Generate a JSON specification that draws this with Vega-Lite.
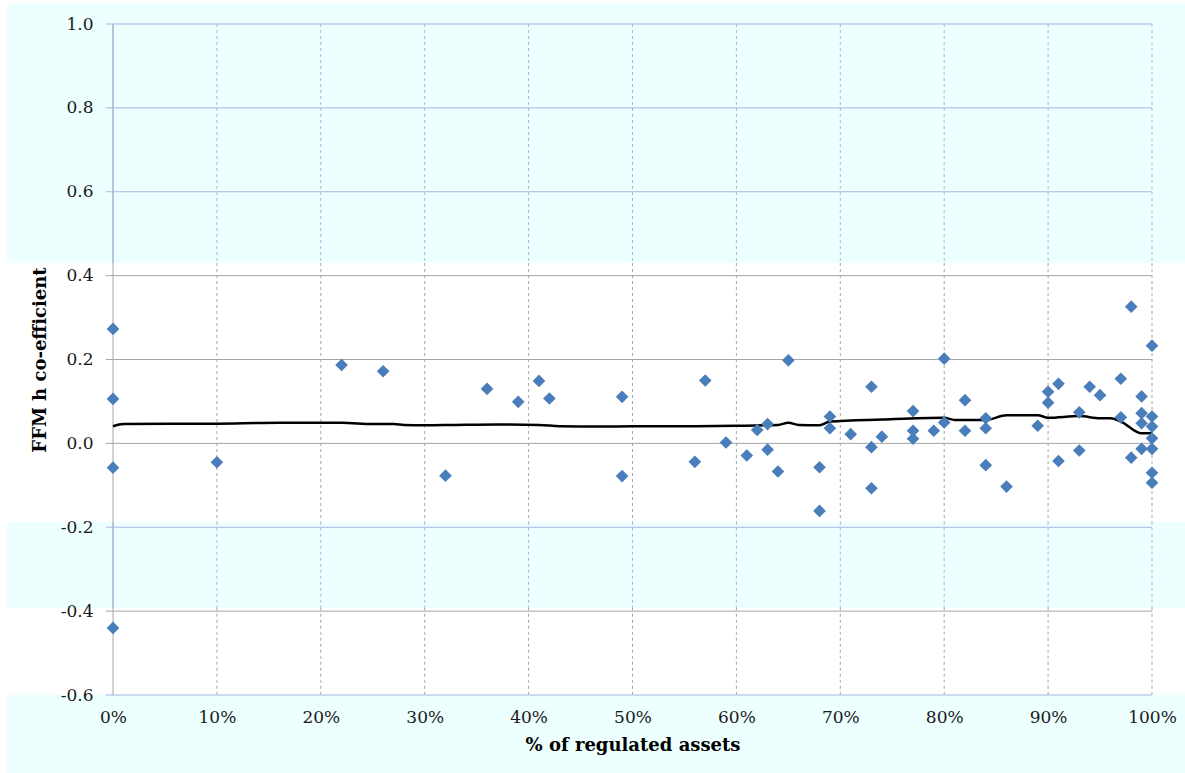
{
  "$schema": "https://vega.github.io/schema/vega-lite/v6.json",
  "width": 1039,
  "height": 671,
  "autosize": {"type": "none"},
  "padding": {"left": 113, "top": 24, "right": 33, "bottom": 78},
  "background": "white",
  "config": {"view": {"stroke": null}, "font": "DejaVu Serif"},
  "resolve": {"axis": {"x": "independent", "y": "independent"}},
  "datasets": {
    "one": [{}],
    "pts": [
      {"x": 0, "y": 0.273}, {"x": 0, "y": 0.106}, {"x": 0, "y": -0.058}, {"x": 0, "y": -0.44},
      {"x": 0.10, "y": -0.045}, {"x": 0.22, "y": 0.187}, {"x": 0.26, "y": 0.172}, {"x": 0.32, "y": -0.077},
      {"x": 0.36, "y": 0.130}, {"x": 0.39, "y": 0.099}, {"x": 0.41, "y": 0.149}, {"x": 0.42, "y": 0.107},
      {"x": 0.49, "y": 0.111}, {"x": 0.49, "y": -0.078}, {"x": 0.56, "y": -0.044}, {"x": 0.57, "y": 0.150},
      {"x": 0.59, "y": 0.002}, {"x": 0.61, "y": -0.029}, {"x": 0.62, "y": 0.032}, {"x": 0.63, "y": 0.046},
      {"x": 0.63, "y": -0.015}, {"x": 0.64, "y": -0.067}, {"x": 0.65, "y": 0.198}, {"x": 0.68, "y": -0.057},
      {"x": 0.68, "y": -0.161}, {"x": 0.69, "y": 0.064}, {"x": 0.69, "y": 0.036}, {"x": 0.71, "y": 0.022},
      {"x": 0.73, "y": 0.135}, {"x": 0.73, "y": -0.009}, {"x": 0.73, "y": -0.107}, {"x": 0.74, "y": 0.016},
      {"x": 0.77, "y": 0.077}, {"x": 0.77, "y": 0.030}, {"x": 0.77, "y": 0.011}, {"x": 0.79, "y": 0.030},
      {"x": 0.80, "y": 0.202}, {"x": 0.80, "y": 0.050}, {"x": 0.82, "y": 0.103}, {"x": 0.82, "y": 0.030},
      {"x": 0.84, "y": 0.060}, {"x": 0.84, "y": 0.036}, {"x": 0.84, "y": -0.052}, {"x": 0.86, "y": -0.103},
      {"x": 0.89, "y": 0.042}, {"x": 0.90, "y": 0.123}, {"x": 0.90, "y": 0.097}, {"x": 0.91, "y": 0.142},
      {"x": 0.91, "y": -0.042}, {"x": 0.93, "y": 0.074}, {"x": 0.93, "y": -0.017}, {"x": 0.94, "y": 0.135},
      {"x": 0.95, "y": 0.115}, {"x": 0.97, "y": 0.154}, {"x": 0.97, "y": 0.062}, {"x": 0.98, "y": 0.326},
      {"x": 0.98, "y": -0.034}, {"x": 0.99, "y": 0.112}, {"x": 0.99, "y": 0.072}, {"x": 0.99, "y": 0.048},
      {"x": 0.99, "y": -0.013}, {"x": 1.0, "y": 0.233}, {"x": 1.0, "y": 0.064}, {"x": 1.0, "y": 0.040},
      {"x": 1.0, "y": 0.012}, {"x": 1.0, "y": -0.013}, {"x": 1.0, "y": -0.070}, {"x": 1.0, "y": -0.094}
    ],
    "fit": [
      {"x": 0, "y": 0.041}, {"x": 0.01, "y": 0.046}, {"x": 0.10, "y": 0.047}, {"x": 0.16, "y": 0.049},
      {"x": 0.22, "y": 0.049}, {"x": 0.25, "y": 0.046}, {"x": 0.27, "y": 0.046}, {"x": 0.28, "y": 0.044},
      {"x": 0.30, "y": 0.043}, {"x": 0.33, "y": 0.044}, {"x": 0.37, "y": 0.045}, {"x": 0.41, "y": 0.044},
      {"x": 0.43, "y": 0.041}, {"x": 0.47, "y": 0.040}, {"x": 0.50, "y": 0.041}, {"x": 0.55, "y": 0.041},
      {"x": 0.60, "y": 0.042}, {"x": 0.64, "y": 0.044}, {"x": 0.65, "y": 0.049}, {"x": 0.66, "y": 0.044},
      {"x": 0.68, "y": 0.043}, {"x": 0.69, "y": 0.052}, {"x": 0.74, "y": 0.057}, {"x": 0.80, "y": 0.061},
      {"x": 0.81, "y": 0.056}, {"x": 0.84, "y": 0.056}, {"x": 0.86, "y": 0.067}, {"x": 0.89, "y": 0.067},
      {"x": 0.90, "y": 0.061}, {"x": 0.93, "y": 0.065}, {"x": 0.95, "y": 0.060}, {"x": 0.96, "y": 0.060},
      {"x": 0.97, "y": 0.052}, {"x": 0.99, "y": 0.024}, {"x": 1.0, "y": 0.024}
    ],
    "gx": [
      {"x": 0.1}, {"x": 0.2}, {"x": 0.3}, {"x": 0.4}, {"x": 0.5},
      {"x": 0.6}, {"x": 0.7}, {"x": 0.8}, {"x": 0.9}, {"x": 1.0}
    ],
    "hgray": [{"y": 0.4}, {"y": 0.2}, {"y": 0.0}, {"y": -0.4}],
    "hblue": [{"y": 1.0}, {"y": 0.8}, {"y": 0.6}, {"y": -0.2}, {"y": -0.6}]
  },
  "layer": [
    {
      "data": {"name": "one"},
      "mark": {"type": "rect", "color": "#eeffff"},
      "encoding": {
        "x": {"datum": -0.102, "type": "quantitative", "axis": null},
        "x2": {"datum": 1.04},
        "y": {"datum": 1.05, "type": "quantitative", "axis": null},
        "y2": {"datum": 0.43}
      }
    },
    {
      "data": {"name": "one"},
      "mark": {"type": "rect", "color": "#eeffff"},
      "encoding": {
        "x": {"datum": -0.102, "type": "quantitative", "axis": null},
        "x2": {"datum": 1.04},
        "y": {"datum": -0.187, "type": "quantitative", "axis": null},
        "y2": {"datum": -0.392}
      }
    },
    {
      "data": {"name": "one"},
      "mark": {"type": "rect", "color": "#eeffff"},
      "encoding": {
        "x": {"datum": -0.102, "type": "quantitative", "axis": null},
        "x2": {"datum": 1.04},
        "y": {"datum": -0.6, "type": "quantitative", "axis": null},
        "y2": {"datum": -0.8}
      }
    },
    {
      "data": {"name": "gx"},
      "mark": {"type": "rule", "color": "#a6a6a6", "strokeDash": [3, 3], "strokeWidth": 1},
      "encoding": {
        "x": {"field": "x", "type": "quantitative", "axis": null},
        "y": {"datum": 0.43, "type": "quantitative", "axis": null},
        "y2": {"datum": -0.187}
      }
    },
    {
      "data": {"name": "gx"},
      "mark": {"type": "rule", "color": "#a6a6a6", "strokeDash": [3, 3], "strokeWidth": 1},
      "encoding": {
        "x": {"field": "x", "type": "quantitative", "axis": null},
        "y": {"datum": -0.392, "type": "quantitative", "axis": null},
        "y2": {"datum": -0.6}
      }
    },
    {
      "data": {"name": "gx"},
      "mark": {"type": "rule", "color": "#a3b8e3", "strokeDash": [3, 3], "strokeWidth": 1},
      "encoding": {
        "x": {"field": "x", "type": "quantitative", "axis": null},
        "y": {"datum": 1.0, "type": "quantitative", "axis": null},
        "y2": {"datum": 0.43}
      }
    },
    {
      "data": {"name": "gx"},
      "mark": {"type": "rule", "color": "#a3b8e3", "strokeDash": [3, 3], "strokeWidth": 1},
      "encoding": {
        "x": {"field": "x", "type": "quantitative", "axis": null},
        "y": {"datum": -0.187, "type": "quantitative", "axis": null},
        "y2": {"datum": -0.392}
      }
    },
    {
      "data": {"name": "hgray"},
      "mark": {"type": "rule", "color": "#a6a6a6", "strokeWidth": 1},
      "encoding": {
        "x": {"datum": -0.007, "type": "quantitative", "axis": null},
        "x2": {"datum": 1.0},
        "y": {"field": "y", "type": "quantitative", "axis": null}
      }
    },
    {
      "data": {"name": "hblue"},
      "mark": {"type": "rule", "color": "#a3b8e3", "strokeWidth": 1},
      "encoding": {
        "x": {"datum": -0.007, "type": "quantitative", "axis": null},
        "x2": {"datum": 1.0},
        "y": {"field": "y", "type": "quantitative", "axis": null}
      }
    },
    {
      "data": {"name": "one"},
      "mark": {"type": "rule", "color": "#a6a6a6", "strokeWidth": 1},
      "encoding": {
        "x": {"datum": 0, "type": "quantitative", "axis": null},
        "y": {"datum": 1.0, "type": "quantitative", "axis": null},
        "y2": {"datum": -0.6}
      }
    },
    {
      "data": {"name": "one"},
      "mark": {"type": "rule", "color": "#a3b8e3", "strokeWidth": 1},
      "encoding": {
        "x": {"datum": 0, "type": "quantitative", "axis": null},
        "y": {"datum": 1.0, "type": "quantitative", "axis": null},
        "y2": {"datum": 0.43}
      }
    },
    {
      "data": {"name": "one"},
      "mark": {"type": "rule", "color": "#a3b8e3", "strokeWidth": 1},
      "encoding": {
        "x": {"datum": 0, "type": "quantitative", "axis": null},
        "y": {"datum": -0.187, "type": "quantitative", "axis": null},
        "y2": {"datum": -0.392}
      }
    },
    {
      "data": {"name": "fit"},
      "mark": {"type": "line", "color": "#000000", "strokeWidth": 2.5, "interpolate": "monotone"},
      "encoding": {
        "x": {"field": "x", "type": "quantitative", "axis": null},
        "y": {"field": "y", "type": "quantitative", "axis": null}
      }
    },
    {
      "data": {"name": "pts"},
      "mark": {"type": "point", "shape": "diamond", "filled": true, "size": 160, "color": "#4a7ebb", "opacity": 1},
      "encoding": {
        "x": {
          "field": "x", "type": "quantitative",
          "scale": {"domain": [0, 1], "nice": false, "zero": false},
          "axis": {
            "zindex": 1, "grid": false, "domain": false, "ticks": false, "tickSize": 0,
            "values": [0, 0.1, 0.2, 0.3, 0.4, 0.5, 0.6, 0.7, 0.8, 0.9, 1.0],
            "format": ".0%", "labelFont": "DejaVu Serif", "labelFontSize": 17, "labelColor": "#1a1a1a",
            "labelPadding": 14, "labelFlush": false, "labelOverlap": false, "labelBound": false,
            "title": "% of regulated assets", "titleFont": "DejaVu Serif", "titleFontSize": 18,
            "titleFontWeight": "bold", "titleColor": "#000000", "titleY": 50, "titleBaseline": "middle"
          }
        },
        "y": {
          "field": "y", "type": "quantitative",
          "scale": {"domain": [-0.6, 1.0], "nice": false, "zero": false},
          "axis": {
            "zindex": 1, "grid": false, "domain": false, "ticks": false, "tickSize": 0,
            "values": [-0.6, -0.4, -0.2, 0, 0.2, 0.4, 0.6, 0.8, 1.0],
            "labelExpr": "replace(format(datum.value, '.1f'), '\u2212', '-')",
            "labelFont": "DejaVu Serif", "labelFontSize": 17, "labelColor": "#1a1a1a",
            "labelPadding": 20, "labelFlush": false, "labelOverlap": false, "labelBound": false,
            "title": "FFM h co-efficient", "titleFont": "DejaVu Serif", "titleFontSize": 18,
            "titleFontWeight": "bold", "titleColor": "#000000",
            "titleX": -73, "titleY": 335.5, "titleAngle": -90, "titleBaseline": "middle", "titleAlign": "center"
          }
        }
      }
    }
  ]
}
